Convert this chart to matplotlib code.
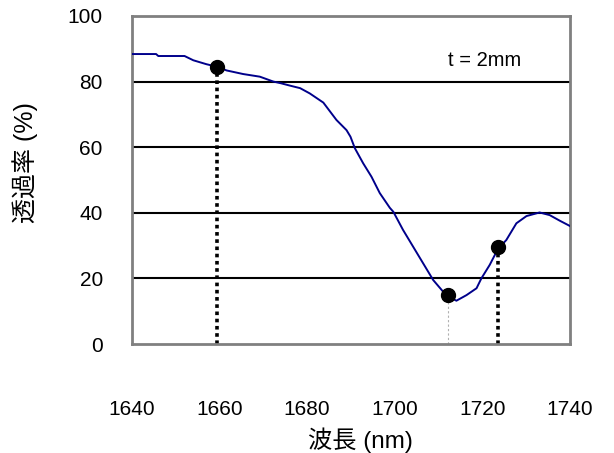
import matplotlib
matplotlib.use("Agg")
import matplotlib.pyplot as plt

plt.rcParams['font.family'] = ['Liberation Sans', 'Noto Sans CJK JP', 'DejaVu Sans']

wavelength = [1640, 1645.5, 1646, 1652, 1654, 1657, 1659.5, 1661.6, 1665.4, 1669.2,
              1672.3, 1674, 1676, 1678.4, 1680.6, 1683.7, 1686.7, 1689, 1689.9,
              1690.9, 1692.8, 1694.7, 1696.6, 1698.9, 1699.7, 1701.9, 1704.2, 1706.5,
              1708.8, 1711.1, 1712.5, 1714.1, 1716.4, 1718.7, 1719.8, 1721.7, 1723.6,
              1725.5, 1727.8, 1730.1, 1733.1, 1735.4, 1737.7, 1740]
transmittance = [88.4, 88.4, 87.8, 87.8, 86.5, 85.3, 84.5, 83.4, 82.3, 81.5,
                 80.0, 79.5, 78.8, 78.0, 76.4, 73.6, 68.3, 65.2, 63.2,
                 59.7, 55.1, 51.0, 46.0, 41.5, 40.3, 34.8, 29.7, 24.6,
                 19.5, 15.9, 14.3, 13.2, 14.9, 17.0, 20.0, 24.1, 29.0,
                 31.7, 36.8, 39.0, 40.1, 39.3, 37.6, 36.0]

marker_x = [1659.5, 1712.2, 1723.6]
marker_y = [84.5, 15.0, 29.5]

x_ticks = [1640, 1660, 1680, 1700, 1720, 1740]
y_ticks = [0, 20, 40, 60, 80, 100]

fig = plt.figure(figsize=(6.14, 4.53), dpi=100)
ax = fig.add_axes([0.215, 0.2406, 0.713, 0.7241])

for yv in [20, 40, 60, 80]:
    ax.axhline(yv, color='black', lw=1.5, zorder=1)

ax.plot(wavelength, transmittance, color='#00008b', lw=1.4, zorder=3)

# drop lines
ax.plot([marker_x[0], marker_x[0]], [0, marker_y[0]], color='black', lw=2.6,
        linestyle=(0, (1, 1)), zorder=2)
ax.plot([marker_x[2], marker_x[2]], [0, marker_y[2]], color='black', lw=2.6,
        linestyle=(0, (1, 1)), zorder=2)
ax.plot([marker_x[1], marker_x[1]], [0, marker_y[1]], color='#b0b0b0', lw=0.8,
        linestyle=(0, (2, 2)), zorder=2)

ax.plot(marker_x, marker_y, 'o', color='black', markersize=10, zorder=4, linestyle='none')

ax.text(1720.6, 86.3, 't = 2mm', fontsize=14.5, ha='center', va='center')

ax.set_xlim(1640, 1740)
ax.set_ylim(0, 100)
ax.set_xticks(x_ticks)
ax.set_yticks(y_ticks)
ax.tick_params(axis='both', length=0, labelsize=15)
ax.tick_params(axis='x', pad=40)
ax.tick_params(axis='y', pad=21)
for s in ax.spines.values():
    s.set_color('#808080')
    s.set_linewidth(2)

fig.text(25/614, 1-163/453, '透過率 (%)', rotation=90, fontsize=18, ha='center', va='center')
fig.text(360/614, 1-440/453, '波長 (nm)', fontsize=17.5, ha='center', va='center')

fig.savefig('out.png', dpi=100)
